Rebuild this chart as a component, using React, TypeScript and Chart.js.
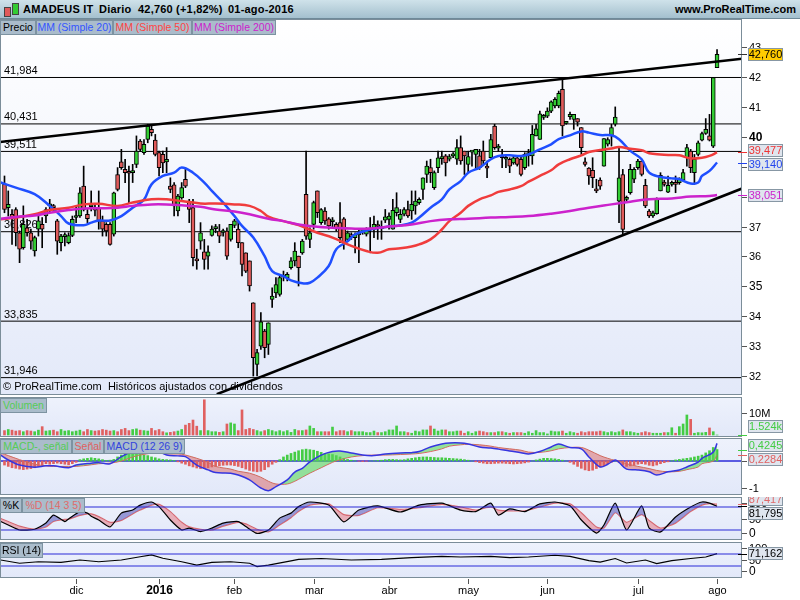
import React, { useEffect, useRef } from 'react';
import { Chart, registerables } from 'chart.js';
Chart.register(...registerables);

// ---------------- DATA ----------------
const opens = [38.41,37.63,37.41,37.57,36.79,36.29,36.96,36.79,36.18,36.91,37.07,37.35,37.69,37.69,37.19,36.46,36.66,36.46,36.70,37.30,37.35,38.35,37.41,37.66,37.60,37.63,37.19,37.07,37.07,36.74,38.74,39.16,38.91,38.82,38.80,39.08,39.86,39.47,39.91,40.25,39.89,39.47,39.41,39.16,38.35,38.39,37.52,37.96,38.58,37.85,37.63,35.90,36.51,36.15,36.01,36.70,36.93,36.85,36.80,36.85,36.57,37.04,36.91,36.46,36.12,35.85,34.45,32.39,33.00,33.50,33.06,34.56,34.78,34.73,35.31,35.29,35.62,35.85,36.01,36.12,38.08,36.57,37.07,38.19,37.13,37.52,37.26,37.16,37.07,37.13,37.26,36.57,36.70,36.63,36.72,36.83,36.74,36.88,36.91,37.02,36.93,37.21,37.24,36.91,37.46,37.24,37.41,37.57,37.52,37.69,37.80,38.24,38.74,38.97,38.30,38.97,39.27,39.36,39.25,39.36,39.25,39.64,39.52,39.08,39.49,39.41,39.36,39.52,38.99,39.30,40.36,39.62,39.36,39.25,39.25,39.13,39.30,39.25,38.97,39.36,39.36,40.03,39.91,40.65,40.69,40.86,41.03,41.03,41.59,40.45,40.67,40.58,40.61,40.31,39.16,38.95,38.88,38.24,38.55,39.02,39.75,40.03,40.42,37.85,38.74,37.91,38.13,38.58,38.97,39.19,38.38,37.52,37.35,37.43,38.19,38.49,38.15,38.41,38.43,38.47,38.55,39.30,39.52,38.80,39.41,39.89,40.11,40.03,39.69,42.31];
const highs = [38.69,38.19,37.57,37.63,36.85,37.69,37.24,36.91,36.68,37.35,37.30,37.63,37.91,37.74,37.24,36.74,36.79,36.79,37.35,37.69,38.30,39.02,37.57,38.19,37.74,38.19,37.35,37.13,37.13,38.15,38.97,39.58,39.25,39.02,39.08,40.03,39.91,39.91,40.42,40.36,40.08,39.52,39.52,39.64,38.63,38.47,38.08,38.47,38.91,37.91,37.91,36.24,37.13,36.57,36.35,37.02,37.07,37.07,36.91,36.96,37.07,37.24,37.19,36.46,36.12,35.85,34.45,32.89,34.12,33.56,33.78,34.95,35.29,35.35,35.51,35.46,35.96,36.46,36.01,36.57,39.52,36.96,37.85,38.19,37.60,37.63,37.30,37.30,37.13,37.80,37.30,36.85,36.79,36.79,36.91,36.93,36.96,37.30,37.35,37.19,37.19,37.57,37.46,37.91,38.13,37.57,37.63,37.85,38.19,38.19,37.96,38.63,39.19,39.25,38.86,39.52,39.52,39.41,39.41,39.47,39.91,40.03,39.52,39.52,39.52,39.58,39.58,39.86,39.19,40.08,40.42,39.75,39.58,39.41,39.30,39.36,39.36,39.36,39.47,39.58,40.38,40.42,40.86,40.75,40.97,41.20,41.31,41.53,41.92,40.49,40.83,40.75,40.61,40.31,39.30,38.97,39.30,38.58,38.63,39.94,39.97,40.42,41.00,39.64,38.91,38.02,39.08,38.97,39.25,39.19,38.58,37.57,37.52,37.96,38.80,38.55,38.69,38.52,38.69,38.63,38.91,39.75,39.58,39.41,39.86,40.16,40.61,40.75,41.98,42.92];
const lows = [37.46,37.35,36.40,36.35,35.79,36.24,36.68,36.24,36.01,36.68,36.29,37.13,37.46,37.52,36.07,36.18,36.35,36.42,36.66,37.13,37.30,37.52,37.13,37.52,37.35,36.91,36.68,36.68,36.38,36.68,38.19,38.91,38.47,37.80,38.47,38.97,39.52,39.41,39.80,40.03,39.36,38.69,38.80,38.80,38.13,37.35,37.35,37.91,38.30,37.13,35.68,35.57,36.24,35.57,35.57,36.68,36.79,36.46,36.68,35.90,36.51,36.96,36.29,35.35,35.46,34.84,32.00,32.00,32.89,32.61,32.72,34.29,34.62,34.67,35.18,35.18,35.57,35.68,35.01,36.07,36.57,36.29,36.91,37.30,37.07,37.07,36.91,36.96,36.85,36.46,36.24,36.51,36.57,36.12,35.79,36.74,36.68,36.12,36.63,36.57,36.57,37.13,36.91,36.91,37.35,37.13,37.35,37.30,37.24,37.41,37.74,37.91,38.47,38.47,38.24,38.80,39.08,38.69,39.19,39.30,39.08,39.08,38.74,38.80,39.02,38.91,38.91,39.08,38.63,39.30,39.58,39.52,38.97,38.97,38.80,39.08,39.02,38.69,38.91,39.02,39.08,40.03,39.91,40.58,40.64,40.81,40.97,40.97,40.03,40.42,40.58,40.25,40.36,39.41,39.02,38.41,38.30,38.13,38.24,39.02,39.69,39.69,40.36,37.13,36.74,37.85,38.08,38.47,38.91,38.69,37.63,37.30,37.30,37.41,38.19,38.35,38.13,38.35,38.13,38.41,38.52,39.02,38.80,38.41,39.36,39.86,40.08,39.86,39.64,42.31];
const closes = [37.57,37.74,37.30,36.79,36.24,37.07,36.79,36.51,36.63,37.19,36.91,37.57,37.74,37.63,36.51,36.68,36.70,36.70,37.24,37.35,38.13,37.57,37.26,37.72,37.55,37.19,36.91,36.85,36.40,38.13,38.24,38.97,38.80,38.78,38.86,39.52,39.58,39.75,40.36,40.14,39.41,38.97,39.13,39.25,38.24,37.69,38.02,38.30,38.35,37.57,35.96,35.85,36.79,35.90,36.15,36.91,36.99,36.68,36.82,36.01,37.07,37.19,36.46,35.73,35.51,35.01,32.61,32.78,33.81,32.95,33.78,34.67,35.06,35.29,35.35,35.40,35.85,36.18,35.62,36.51,36.68,36.79,37.80,37.46,37.57,37.19,37.02,37.21,36.96,36.63,36.46,36.79,36.66,36.74,36.76,36.87,36.91,36.93,37.07,37.00,36.98,37.32,37.35,37.54,37.63,37.41,37.57,37.35,37.74,37.85,37.91,38.63,39.02,38.80,38.80,39.30,39.30,39.13,39.34,39.38,39.64,39.19,39.36,39.34,39.51,39.58,38.97,39.19,38.95,39.91,39.64,39.66,39.30,39.30,39.02,39.30,39.08,38.74,39.41,39.47,40.08,40.27,40.77,40.68,40.86,41.17,41.25,41.45,40.36,40.47,40.75,40.75,40.49,39.64,39.08,38.69,38.63,38.19,38.35,39.94,39.91,40.31,40.66,38.63,36.90,37.96,38.91,38.91,39.19,38.74,37.69,37.35,37.46,37.93,38.71,38.41,38.38,38.47,38.41,38.58,38.80,39.64,38.97,39.25,39.80,40.11,40.25,39.89,41.98,42.76];

// volume, millions of shares
const volumes = [2.0,2.5,2.2,1.8,2.0,1.5,2.0,1.8,1.5,2.2,3.8,1.8,2.0,2.2,1.5,2.5,1.8,2.0,1.5,1.8,2.2,1.5,2.5,2.0,1.8,2.0,2.5,2.2,1.8,2.0,1.5,2.5,3.0,2.0,2.5,2.8,2.2,2.0,1.8,3.0,2.0,2.5,1.5,1.0,1.2,1.5,1.8,2.5,4.5,5.3,6.8,4.0,2.0,16.0,2.0,1.5,1.5,1.2,1.5,5.0,5.5,5.0,2.0,11.4,2.5,3.0,2.5,2.0,1.5,2.0,2.5,2.0,1.5,2.0,1.5,2.0,1.2,2.5,2.0,2.0,2.3,4.1,3.0,1.5,1.5,1.5,1.5,3.6,1.5,2.0,2.0,1.5,2.0,1.5,1.5,1.5,1.1,1.1,1.8,1.1,1.1,1.5,2.3,2.3,4.1,1.5,1.5,1.1,0.8,1.8,1.5,2.3,2.3,4.1,2.7,1.8,2.3,2.3,1.5,1.5,1.8,1.8,0.8,1.5,0.8,1.5,1.8,1.5,1.1,1.1,1.1,1.5,1.5,1.1,0.8,1.1,1.1,1.1,0.8,1.5,0.8,2.0,1.1,1.1,0.5,1.8,1.5,1.5,1.8,0.8,1.5,1.1,0.8,1.5,1.1,1.5,1.5,1.5,1.8,1.5,1.1,1.5,1.1,1.5,2.3,1.5,1.5,1.1,0.8,1.1,1.5,1.1,0.8,0.8,0.8,1.1,1.1,3.3,0.8,3.8,5.0,9.1,7.1,0.8,1.1,1.0,1.2,3.2,1.5,0.001524];

// MACD (12 26 9): histogram per day, MACD & signal read at sample days
const macdHist = [-0.15,-0.2,-0.25,-0.27,-0.3,-0.32,-0.3,-0.28,-0.25,-0.2,-0.15,-0.1,-0.12,-0.1,-0.08,-0.1,-0.12,-0.14,-0.1,-0.05,0.05,0.08,0.1,0.12,0.1,0.08,0.05,0.02,0.03,0.06,0.15,0.22,0.27,0.3,0.3,0.28,0.25,0.22,0.2,0.15,0.12,0.08,0.06,0.05,0.04,0.02,-0.03,-0.08,-0.12,-0.18,-0.22,-0.26,-0.28,-0.27,-0.25,-0.22,-0.2,-0.18,-0.16,-0.15,-0.15,-0.17,-0.2,-0.25,-0.3,-0.35,-0.38,-0.4,-0.38,-0.32,-0.22,-0.12,-0.05,0.05,0.15,0.22,0.28,0.33,0.38,0.42,0.44,0.42,0.4,0.36,0.32,0.28,0.26,0.24,0.2,0.15,0.1,0.06,0.03,0.01,-0.01,-0.02,-0.01,0.0,0.01,0.02,0.03,0.05,0.06,0.06,0.05,0.04,0.05,0.08,0.1,0.12,0.14,0.15,0.15,0.14,0.13,0.12,0.12,0.11,0.1,0.09,0.08,0.07,0.05,0.03,0.0,-0.03,-0.06,-0.08,-0.1,-0.1,-0.09,-0.08,-0.08,-0.09,-0.1,-0.11,-0.1,-0.09,-0.07,-0.04,0.0,0.04,0.07,0.1,0.1,0.09,0.08,0.06,0.03,0.0,-0.05,-0.12,-0.2,-0.27,-0.33,-0.36,-0.34,-0.28,-0.22,-0.18,-0.1,-0.05,0.0,-0.06,-0.15,-0.2,-0.18,-0.15,-0.12,-0.1,-0.12,-0.16,-0.18,-0.15,-0.1,-0.06,-0.03,0.01,0.04,0.06,0.08,0.1,0.12,0.15,0.18,0.22,0.3,0.38,0.5,0.4245];
const macdDays = [-1,1,4,8,11,13,17,19,23,25,28,31,34,37,40,43,46,48,51,54,56,60,62,65,68,70,72,75,77,79,81,84,87,89,92,95,98,101,105,108,110,113,116,118,121,123,126,129,131,134,137,139,142,145,147,150,153,155,158,160,162,163,165,168,171,173,176,179,181,184,185,188,189];
const macdLine = [0.22,0.04,-0.15,-0.23,-0.18,-0.18,-0.25,-0.15,-0.08,-0.06,-0.10,0.16,0.35,0.37,0.40,0.22,0.19,0.16,-0.15,-0.33,-0.43,-0.45,-0.52,-0.70,-1.0,-1.1,-0.95,-0.7,-0.41,-0.27,-0.03,0.22,0.35,0.37,0.3,0.22,0.2,0.26,0.3,0.31,0.35,0.52,0.63,0.67,0.67,0.63,0.52,0.48,0.44,0.37,0.31,0.26,0.35,0.52,0.63,0.5,0.45,0.15,-0.22,-0.12,0.04,-0.05,-0.3,-0.33,-0.4,-0.52,-0.4,-0.33,-0.22,-0.04,0.1,0.33,0.6529];
const signalLine = [0.3,0.2,0.05,-0.12,-0.18,-0.2,-0.2,-0.2,-0.14,-0.1,-0.08,0.0,0.15,0.25,0.3,0.32,0.28,0.22,0.1,-0.05,-0.2,-0.3,-0.38,-0.45,-0.6,-0.75,-0.85,-0.85,-0.75,-0.6,-0.45,-0.25,-0.05,0.05,0.15,0.2,0.22,0.22,0.24,0.26,0.28,0.35,0.45,0.55,0.6,0.62,0.6,0.55,0.5,0.45,0.4,0.33,0.32,0.38,0.45,0.5,0.5,0.4,0.2,0.1,0.02,0.0,-0.1,-0.2,-0.28,-0.35,-0.4,-0.38,-0.32,-0.22,-0.1,0.0,0.2284];

// moving averages read at sample days
const ma20Days = [-1,3,8,12,15,17,21,23,25,28,31,34,37,39,42,45,47,50,53,55,58,61,63,66,69,71,74,76,79,81,83,86,88,91,93,97,99,102,105,108,110,113,116,118,121,123,126,129,131,134,137,139,142,145,147,150,153,155,158,161,163,166,169,171,174,177,179,182,184,185,187,189];
const ma20 = [38.47,38.3,38.08,37.69,37.35,37.1,37.04,37.13,37.2,37.2,37.35,37.63,37.9,38.41,38.69,38.8,38.97,38.8,38.47,38.19,37.8,37.35,37.02,36.63,36.01,35.51,35.34,35.2,35.1,35.12,35.29,35.68,36.24,36.51,36.74,36.9,36.95,37.0,37.04,37.13,37.3,37.63,37.91,38.24,38.52,38.8,38.97,39.25,39.36,39.38,39.36,39.41,39.58,39.75,39.92,40.05,40.18,40.14,40.06,40.05,39.92,39.53,39.25,38.8,38.66,38.61,38.58,38.44,38.47,38.69,38.86,39.140];
const ma50Days = [-1,3,8,12,17,21,25,30,34,39,43,47,52,56,61,65,68,70,74,78,83,87,92,96,99,102,105,108,110,113,116,118,121,123,126,129,131,134,137,139,142,145,147,150,153,155,158,161,163,166,169,171,174,177,179,182,185,187,189];
const ma50 = [37.24,37.3,37.41,37.55,37.63,37.74,37.76,37.69,37.8,37.91,37.91,37.85,37.77,37.77,37.74,37.69,37.52,37.33,37.18,37.05,36.79,36.63,36.35,36.18,36.12,36.24,36.27,36.33,36.4,36.57,36.9,37.18,37.46,37.69,37.91,38.04,38.16,38.24,38.35,38.5,38.69,38.88,39.08,39.25,39.38,39.49,39.56,39.61,39.66,39.6,39.55,39.45,39.41,39.39,39.38,39.28,39.3,39.36,39.477];
const ma200Days = [-1,3,8,12,17,21,25,30,34,39,43,47,52,56,61,65,70,74,78,83,87,92,97,102,108,113,118,123,129,134,139,145,150,155,161,166,171,177,182,187,189];
const ma200 = [37.26,37.32,37.37,37.46,37.55,37.6,37.61,37.63,37.69,37.74,37.74,37.71,37.66,37.57,37.5,37.41,37.26,37.18,37.07,36.99,36.96,36.93,36.93,37.0,37.07,37.18,37.24,37.26,37.3,37.32,37.35,37.43,37.52,37.63,37.74,37.83,37.91,37.94,38.0,38.02,38.051];

// stochastic (14 3 5) and RSI (14) read at sample days
const stochDays = [-1,1,4,8,11,13,16,17,20,22,23,25,28,31,34,36,39,41,44,47,49,52,55,58,62,64,67,70,73,76,78,81,86,90,94,99,105,110,116,121,125,129,131,134,138,142,146,150,153,157,159,162,165,169,171,174,178,182,185,187,189];
const stochK = [42,33,20,22,38,59,42,49,68,64,56,46,28,64,72,85,93,81,46,20,25,16,25,38,42,29,11,20,51,64,81,93,85,41,72,83,67,85,90,72,68,90,59,75,68,88,93,83,46,12,33,90,20,83,25,15,54,80,93,90,81.795];
const stochD = [50,42,30,22,28,42,48,48,58,62,62,55,40,45,62,72,85,87,68,40,28,22,20,30,40,36,22,15,33,52,68,85,88,60,58,78,74,78,87,80,72,80,72,70,70,80,90,88,65,28,25,65,40,60,45,25,38,68,85,89,87.417];
const rsiDays = [-1,4,9,15,20,25,31,36,39,42,47,51,55,60,65,67,70,76,78,84,92,100,108,116,121,129,134,139,146,150,155,158,162,165,170,173,177,182,186,189];
const rsiVals = [50,39,44,42,50,44,50,61,67,56,44,33,42,44,39,28,33,47,52,55,50,52,58,62,60,62,58,60,66,62,48,43,55,40,50,38,48,55,60,71.162];

// horizontal levels and trend lines (price units, day index)
const levels = [41.984, 40.431, 39.511, 36.826, 33.835, 31.946];
const upperTrendDays = [-1.19, 195.62];
const upperTrendPrices = [39.83, 42.61];
const lowerTrendDays = [56.3, 195.62];
const lowerTrendPrices = [31.39, 38.27];

// axis ticks
const priceTicks = [32, 33, 34, 35, 36, 37, 38, 39, 40, 41, 42, 43];
const monthTickDays = [19, 41, 61, 82, 102, 123, 144, 168, 189];
const monthLabels = ['dic', '2016', 'feb', 'mar', 'abr', 'may', 'jun', 'jul', 'ago'];

// ---------------- STYLE ----------------
const FONT = '"Liberation Sans", Arial, Helvetica, sans-serif';
const X_MIN = -1.19;
const X_MAX = 195.62;
const GREEN = '#33cc33';
const RED = '#e05a5a';
const BORDER = '#7b8d99';

const fmt = (v: number, d: number) => v.toFixed(d).replace('.', ',');
const pts = (xs: number[], ys: number[]) => xs.map((x, k) => ({ x, y: ys[k] }));
const hline = (v: number) => [{ x: X_MIN, y: v }, { x: X_MAX, y: v }];

type Tick = { v: number; text: string; font?: string };
type Box = { v: number; text: string; color: string; bg?: string };

function panelPlugin(cfg: {
  bgTop: string; bgBottom: string; ticks: Tick[]; boxes: Box[];
  under?: (chart: any) => void; after?: (chart: any) => void;
}) {
  return {
    id: 'panel' + Math.random().toString(36).slice(2),
    beforeDraw(chart: any) {
      const { ctx, chartArea: a } = chart;
      ctx.save();
      const g = ctx.createLinearGradient(0, a.top, 0, a.bottom);
      g.addColorStop(0, cfg.bgTop);
      g.addColorStop(1, cfg.bgBottom);
      ctx.fillStyle = g;
      ctx.fillRect(a.left, a.top, a.right - a.left, a.bottom - a.top);
      ctx.restore();
    },
    beforeDatasetsDraw(chart: any) {
      if (cfg.under) { chart.ctx.save(); cfg.under(chart); chart.ctx.restore(); }
    },
    afterDraw(chart: any) {
      const { ctx, chartArea: a } = chart;
      const ys = chart.scales.y;
      ctx.save();
      ctx.strokeStyle = BORDER;
      ctx.lineWidth = 1;
      ctx.strokeRect(a.left + 0.5, a.top + 0.5, a.right - a.left - 1, a.bottom - a.top - 1);
      const clamp = (y: number, m: number) => Math.min(Math.max(y, a.top + m), a.bottom - m - 1);
      ctx.textBaseline = 'middle';
      cfg.ticks.forEach((t) => {
        const y = Math.round(clamp(ys.getPixelForValue(t.v), 6)) + 0.5;
        ctx.strokeStyle = '#555';
        ctx.beginPath(); ctx.moveTo(a.right, y); ctx.lineTo(a.right + 5, y); ctx.stroke();
        ctx.font = t.font || `11px ${FONT}`;
        ctx.fillStyle = '#000';
        ctx.textAlign = 'left';
        ctx.fillText(t.text, a.right + 7, y + 0.5);
      });
      const H = 13;
      const items = cfg.boxes.map((b) => {
        const py = ys.getPixelForValue(b.v);
        return { ...b, py, cy: clamp(py, 3 + H / 2) };
      });
      items.sort((p, q) => p.cy - q.cy);
      for (let k = 0; k < items.length - 1; k++) {
        const p = items[k], q = items[k + 1];
        if (q.cy - p.cy < H + 1) {
          const mid = (p.cy + q.cy) / 2;
          p.cy = mid - (H + 1) / 2;
          q.cy = mid + (H + 1) / 2;
        }
      }
      items.forEach((b) => {
        const py = Math.round(b.py) + 0.5;
        ctx.strokeStyle = b.bg ? '#333' : b.color;
        ctx.beginPath(); ctx.moveTo(a.right - 4, py); ctx.lineTo(a.right + 5, py); ctx.stroke();
        const top = Math.round(b.cy - H / 2);
        ctx.fillStyle = b.bg || '#dfe5ee';
        ctx.fillRect(a.right + 6, top, 35, H);
        ctx.strokeStyle = '#8797a4';
        ctx.strokeRect(a.right + 6.5, top + 0.5, 34, H - 1);
        ctx.fillStyle = b.bg ? '#000' : b.color;
        ctx.font = `11px ${FONT}`;
        ctx.textAlign = 'center';
        ctx.fillText(b.text, a.right + 6 + 17.5, top + H / 2 + 0.5);
      });
      if (cfg.after) cfg.after(chart);
      ctx.restore();
    },
  };
}

function baseOptions(yMin: number, yMax: number, padBottom = 0): any {
  return {
    animation: false,
    responsive: false,
    devicePixelRatio: 1,
    layout: { padding: { left: 0, right: 58, top: 0, bottom: padBottom } },
    plugins: { legend: { display: false }, tooltip: { enabled: false }, title: { display: false } },
    scales: {
      x: { type: 'linear', min: X_MIN, max: X_MAX, display: false, offset: false },
      y: { type: 'linear', min: yMin, max: yMax, display: false, beginAtZero: false },
    },
    elements: { point: { radius: 0 }, line: { capBezierPoints: true } },
  };
}

const lineDs = (data: any[], color: string, width: number, extra: any = {}) => ({
  type: 'line', data, borderColor: color, borderWidth: width, pointRadius: 0, fill: false, tension: 0, ...extra,
});

const dayIdx = closes.map((_, i) => i);

function mainConfig(): any {
  const last = closes.length - 1;
  const datasets: any[] = [
    ...levels.map((lv) => lineDs(hline(lv), '#000', 1, { order: 10 })),
    {
      type: 'bar', data: dayIdx.map((i) => ({ x: i, y: [lows[i], highs[i]] })),
      backgroundColor: '#000', barThickness: 1, grouped: false, order: 6,
    },
    {
      type: 'bar',
      data: dayIdx.map((i) => ({ x: i, y: [Math.min(opens[i], closes[i]), Math.max(opens[i], closes[i])] })),
      backgroundColor: (c: any) => (closes[c.dataIndex] >= opens[c.dataIndex] ? GREEN : RED),
      borderColor: '#000', borderWidth: 1, borderSkipped: false, barThickness: 4, minBarLength: 2,
      grouped: false, order: 5,
    },
    lineDs(pts(ma200Days, ma200), '#cc22cc', 2.5, { tension: 0.4, order: 3 }),
    lineDs(pts(ma50Days, ma50), '#f03c3c', 2.5, { tension: 0.4, order: 3 }),
    lineDs(pts(ma20Days, ma20), '#1f4fff', 2.5, { tension: 0.4, order: 3 }),
    lineDs(pts(upperTrendDays, upperTrendPrices), '#000', 2.5, { order: 1 }),
    lineDs(pts(lowerTrendDays, lowerTrendPrices), '#000', 2.5, { order: 1 }),
  ];
  const ticks: Tick[] = priceTicks.map((v) => ({
    v, text: String(v),
    font: v === 40 ? `bold 12px ${FONT}` : v === 35 ? `12px ${FONT}` : `11px ${FONT}`,
  }));
  const boxes: Box[] = [
    { v: closes[last], text: fmt(closes[last], 3), color: '#000', bg: '#ffcc00' },
    { v: ma50[ma50.length - 1], text: fmt(ma50[ma50.length - 1], 3), color: '#ee3333' },
    { v: ma20[ma20.length - 1], text: fmt(ma20[ma20.length - 1], 3), color: '#2244ee' },
    { v: ma200[ma200.length - 1], text: fmt(ma200[ma200.length - 1], 3), color: '#cc22cc' },
  ];
  return {
    type: 'bar',
    data: { datasets },
    options: baseOptions(31.365, 43.94),
    plugins: [panelPlugin({
      bgTop: '#ffffff', bgBottom: '#e3e9f9', ticks, boxes,
      under: (chart) => {
        const { ctx, chartArea: a } = chart;
        const ys = chart.scales.y;
        ctx.font = `11px ${FONT}`;
        ctx.fillStyle = '#000';
        ctx.textAlign = 'left';
        ctx.textBaseline = 'bottom';
        levels.forEach((lv) => ctx.fillText(fmt(lv, 3), 4, ys.getPixelForValue(lv) - 1));
        ctx.textBaseline = 'middle';
        ctx.font = `11px ${FONT}`;
        ctx.fillText('© ProRealTime.com  Históricos ajustados con dividendos', 3, a.bottom - 8);
      },
    })],
  };
}

function volumeConfig(): any {
  const last = volumes.length - 1;
  return {
    type: 'bar',
    data: {
      datasets: [{
        type: 'bar', data: dayIdx.map((i) => ({ x: i, y: volumes[i] })),
        backgroundColor: (c: any) => (closes[c.dataIndex] >= opens[c.dataIndex] ? '#44cc44' : '#e06060'),
        barThickness: 2, grouped: false,
      }],
    },
    options: baseOptions(-0.91, 17.27),
    plugins: [panelPlugin({
      bgTop: '#eef2fc', bgBottom: '#e2e8f9',
      ticks: [{ v: 10, text: '10M' }],
      boxes: [{ v: volumes[last], text: (volumes[last] * 1000).toFixed(3) + 'k', color: '#44cc44' }],
    })],
  };
}

function macdConfig(): any {
  const last = macdHist.length - 1;
  return {
    type: 'bar',
    data: {
      datasets: [
        lineDs(hline(0), '#2a2ad8', 1.5, { order: 5 }),
        {
          type: 'bar', data: dayIdx.map((i) => ({ x: i, y: macdHist[i] })),
          backgroundColor: (c: any) => (macdHist[c.dataIndex] >= 0 ? '#44cc44' : '#e06060'),
          barThickness: 2, grouped: false, order: 4,
        },
        lineDs(pts(macdDays, macdLine), '#3535e0', 1.5, {
          tension: 0.35, order: 2,
          fill: { target: '+1', above: 'rgba(90,215,90,0.6)', below: 'rgba(215,95,95,0.5)' },
        }),
        lineDs(pts(macdDays, signalLine), '#e06060', 1, { tension: 0.35, order: 3 }),
      ],
    },
    options: baseOptions(-1.259, 0.852),
    plugins: [panelPlugin({
      bgTop: '#eef2fc', bgBottom: '#e2e8f9',
      ticks: [{ v: 0, text: '0' }, { v: -1, text: '-1' }],
      boxes: [
        { v: macdHist[last], text: fmt(macdHist[last], 4), color: '#44cc44' },
        { v: signalLine[signalLine.length - 1], text: fmt(signalLine[signalLine.length - 1], 4), color: '#e06060' },
      ],
    })],
  };
}

function stochConfig(): any {
  return {
    type: 'line',
    data: {
      datasets: [
        lineDs(hline(80), '#2a2ad8', 1.2),
        lineDs(hline(20), '#2a2ad8', 1.2),
        lineDs(pts(stochDays, stochK), '#000', 1.2, {
          tension: 0.2,
          fill: { target: '+1', above: 'rgba(95,95,190,0.6)', below: 'rgba(230,120,130,0.55)' },
        }),
        lineDs(pts(stochDays, stochD), '#e06a6a', 1.2, { tension: 0.2 }),
      ],
    },
    options: baseOptions(-6.09, 106.1),
    plugins: [panelPlugin({
      bgTop: '#eef2fc', bgBottom: '#e2e8f9',
      ticks: [{ v: 100, text: '100' }, { v: 50, text: '50' }, { v: 0, text: '0', font: `12px ${FONT}` }],
      boxes: [
        { v: stochD[stochD.length - 1], text: fmt(stochD[stochD.length - 1], 3), color: '#e06a6a' },
        { v: stochK[stochK.length - 1], text: fmt(stochK[stochK.length - 1], 3), color: '#000' },
      ],
    })],
  };
}

function rsiConfig(): any {
  return {
    type: 'line',
    data: {
      datasets: [
        lineDs(hline(70), '#2a2ad8', 1.2),
        lineDs(hline(30), '#2a2ad8', 1.2),
        lineDs(pts(rsiDays, rsiVals), '#000', 1.1),
      ],
    },
    options: baseOptions(-10, 110, 22),
    plugins: [panelPlugin({
      bgTop: '#eef2fc', bgBottom: '#e2e8f9',
      ticks: [{ v: 100, text: '100' }, { v: 50, text: '50' }, { v: 0, text: '0', font: `12px ${FONT}` }],
      boxes: [{ v: rsiVals[rsiVals.length - 1], text: fmt(rsiVals[rsiVals.length - 1], 3), color: '#000' }],
      after: (chart) => {
        const { ctx, chartArea: a } = chart;
        const xs = chart.scales.x;
        ctx.textAlign = 'center';
        ctx.textBaseline = 'middle';
        monthTickDays.forEach((d, k) => {
          const x = Math.round(xs.getPixelForValue(d)) + 0.5;
          ctx.strokeStyle = '#555';
          ctx.beginPath(); ctx.moveTo(x, a.bottom + 1); ctx.lineTo(x, a.bottom + 6); ctx.stroke();
          const isYear = /^\d+$/.test(monthLabels[k]);
          ctx.font = isYear ? `bold 12px ${FONT}` : `11px ${FONT}`;
          ctx.fillStyle = '#000';
          ctx.fillText(monthLabels[k], x, a.bottom + 13);
        });
      },
    })],
  };
}

const tabBase: React.CSSProperties = {
  position: 'absolute', height: 13, lineHeight: '13px', fontSize: 10.5, fontFamily: FONT,
  background: '#aabccb', border: '1px solid #7d93a1', boxSizing: 'content-box', textAlign: 'center',
  whiteSpace: 'nowrap', overflow: 'hidden', zIndex: 2,
};

function Tab({ left, width, top, color, text }: { left: number; width: number; top: number; color: string; text: string }) {
  return <div style={{ ...tabBase, left, top, width: width - 2, color }}>{text}</div>;
}

export default function App() {
  const mainRef = useRef<HTMLCanvasElement>(null);
  const volRef = useRef<HTMLCanvasElement>(null);
  const macdRef = useRef<HTMLCanvasElement>(null);
  const stochRef = useRef<HTMLCanvasElement>(null);
  const rsiRef = useRef<HTMLCanvasElement>(null);

  useEffect(() => {
    const charts: Chart[] = [];
    const pairs: [React.RefObject<HTMLCanvasElement>, () => any][] = [
      [mainRef, mainConfig], [volRef, volumeConfig], [macdRef, macdConfig], [stochRef, stochConfig], [rsiRef, rsiConfig],
    ];
    pairs.forEach(([r, cfg]) => { if (r.current) charts.push(new Chart(r.current, cfg())); });
    return () => charts.forEach((c) => c.destroy());
  }, []);

  const cv = (top: number, h: number): React.CSSProperties => ({ position: 'absolute', left: 0, top, width: 800, height: h, display: 'block' });
  const hdrText: React.CSSProperties = { position: 'absolute', top: 3, fontSize: 11, fontWeight: 'bold', fontFamily: FONT, color: '#000', whiteSpace: 'nowrap', lineHeight: '13px', letterSpacing: 0.2 };

  return (
    <div style={{ position: 'fixed', left: 0, top: 0, width: 800, height: 600, background: '#fff', overflow: 'hidden' }}>
      {/* header */}
      <div style={{ position: 'absolute', left: 0, top: 0, width: 800, height: 18, background: 'linear-gradient(#cfe2ea, #a4c0ce)', borderBottom: '1px solid #6f8a99' }} />
      <div style={{ position: 'absolute', left: 4, top: 7, width: 5, height: 8, background: '#e05a5a', border: '1px solid #444', zIndex: 3 }} />
      <div style={{ position: 'absolute', left: 12, top: 3, width: 5, height: 10, background: '#33cc33', border: '1px solid #444', zIndex: 3 }} />
      <span style={{ ...hdrText, left: 23 }}>AMADEUS IT</span>
      <span style={{ ...hdrText, left: 99 }}>Diario</span>
      <span style={{ ...hdrText, left: 138 }}>42,760 (+1,82%)</span>
      <span style={{ ...hdrText, left: 228 }}>01-ago-2016</span>
      <span style={{ ...hdrText, right: 4, letterSpacing: 0 }}>www.ProRealTime.com</span>

      <canvas ref={mainRef} width={800} height={376} style={cv(19, 376)} />
      <canvas ref={volRef} width={800} height={40} style={cv(397, 40)} />
      <canvas ref={macdRef} width={800} height={57} style={cv(438, 57)} />
      <canvas ref={stochRef} width={800} height={43} style={cv(497, 43)} />
      <canvas ref={rsiRef} width={800} height={58} style={cv(542, 58)} />

      {/* legend tabs */}
      <Tab left={0} width={36} top={20} color="#000" text="Precio" />
      <Tab left={36} width={77} top={20} color="#3355ff" text="MM (Simple 20)" />
      <Tab left={113} width={79} top={20} color="#ff4444" text="MM (Simple 50)" />
      <Tab left={192} width={84} top={20} color="#cc22cc" text="MM (Simple 200)" />

      <Tab left={0} width={47} top={398} color="#55cc55" text="Volumen" />
      <Tab left={0} width={72} top={439} color="#55cc55" text="MACD-, señal" />
      <Tab left={72} width={32} top={439} color="#e06060" text="Señal" />
      <Tab left={104} width={81} top={439} color="#3344dd" text="MACD (12 26 9)" />
      <Tab left={0} width={22} top={498} color="#000" text="%K" />
      <Tab left={22} width={63} top={498} color="#e06a6a" text="%D (14 3 5)" />
      <Tab left={0} width={43} top={543} color="#000" text="RSI (14)" />
    </div>
  );
}
